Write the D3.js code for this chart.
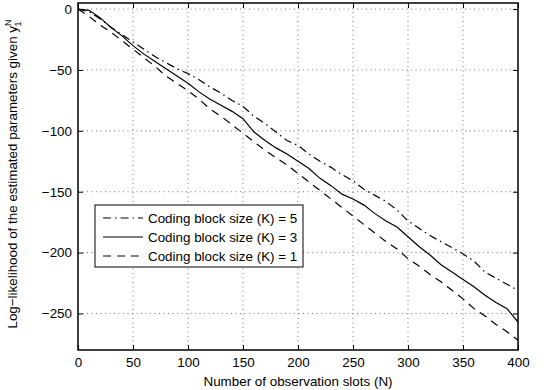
<!DOCTYPE html>
<html>
<head>
<meta charset="utf-8">
<script src="https://cdn.jsdelivr.net/npm/d3@7"></script>
<style>
  html, body { margin: 0; padding: 0; background: #fff; }
  svg { display: block; font-family: "Liberation Sans", Arial, Helvetica, sans-serif; }
</style>
</head>
<body>
<svg id="chart" width="552" height="390"></svg>
<script>
// Number of observation slots (N) at which each curve is sampled
const slots = [0, 10, 20, 30, 40, 50, 60, 70, 80, 90, 100, 110, 120, 130, 140, 150, 160, 170, 180, 190, 200,
               210, 220, 230, 240, 250, 260, 270, 280, 290, 300, 310, 320, 330, 340, 350, 360, 370, 380, 390, 400];

// Log-likelihood of the estimated parameters for each coding block size
const llK5 = [0, -2, -8, -15, -21, -27, -33, -39, -44, -49, -53, -58, -64, -69, -75, -80, -88, -94, -101, -108, -112,
              -119, -125, -130, -136, -141, -148, -153, -158, -165, -174, -180, -186, -191, -196, -201, -207, -216, -221, -226, -231];
const llK3 = [0, -1, -7, -15, -22, -30, -37, -43, -49, -55, -61, -68, -74, -79, -84, -90, -101, -108, -114, -119, -125,
              -131, -139, -145, -152, -156, -161, -168, -174, -179, -187, -195, -202, -210, -216, -222, -228, -235, -241, -246, -257];
const llK1 = [0, -6, -13, -19, -26, -33, -40, -47, -55, -61, -67, -74, -82, -88, -95, -102, -109, -116, -122, -128, -135,
              -142, -149, -156, -163, -170, -177, -184, -191, -197, -205, -211, -218, -224, -231, -238, -246, -252, -259, -265, -272];

const xTicks = [0, 50, 100, 150, 200, 250, 300, 350, 400];
const yTicks = [0, -50, -100, -150, -200, -250];

const seriesNames = ["Coding block size (K) = 5", "Coding block size (K) = 3", "Coding block size (K) = 1"];
const seriesValues = [llK5, llK3, llK1];
const seriesDash = ["8,4,1.5,4", null, "8,6"];

const fontSize = "13.4px";
const svg = d3.select("#chart");
const plotL = 78, plotR = 518, plotT = 3, plotB = 350;

const x = d3.scaleLinear().domain([0, 400]).range([plotL, plotR]);
const y = d3.scaleLinear().domain([-280, 5]).range([plotB, plotT]);

// dotted grid
const grid = svg.append("g").attr("stroke", "#555").attr("stroke-width", 0.8).attr("stroke-dasharray", "1,3.5");
grid.selectAll(".gx").data(xTicks.slice(1, -1)).join("line")
  .attr("x1", d => x(d)).attr("x2", d => x(d)).attr("y1", plotT).attr("y2", plotB);
grid.selectAll(".gy").data(yTicks).join("line")
  .attr("x1", plotL).attr("x2", plotR).attr("y1", d => y(d)).attr("y2", d => y(d));

// axes with inward ticks on all four sides
const fmt = d => d < 0 ? "\u2212" + Math.abs(d) : String(d);
const tickLen = 5;
const axB = svg.append("g").attr("transform", `translate(0,${plotB})`)
  .call(d3.axisBottom(x).tickValues(xTicks).tickSizeInner(-tickLen).tickSizeOuter(0).tickPadding(7).tickFormat(fmt));
const axT = svg.append("g").attr("transform", `translate(0,${plotT})`)
  .call(d3.axisTop(x).tickValues(xTicks).tickSizeInner(-tickLen).tickSizeOuter(0).tickFormat(""));
const axL = svg.append("g").attr("transform", `translate(${plotL},0)`)
  .call(d3.axisLeft(y).tickValues(yTicks).tickSizeInner(-tickLen).tickSizeOuter(0).tickPadding(6).tickFormat(fmt));
const axR = svg.append("g").attr("transform", `translate(${plotR},0)`)
  .call(d3.axisRight(y).tickValues(yTicks).tickSizeInner(-tickLen).tickSizeOuter(0).tickFormat(""));
[axB, axT, axL, axR].forEach(a => {
  a.select(".domain").remove();
  a.selectAll("line").attr("stroke", "#000").attr("stroke-width", 1);
  a.selectAll("text").attr("fill", "#000").style("font-size", fontSize);
});

// curves
const line = d3.line().x((d, i) => x(slots[i])).y(d => y(d));
const curves = svg.append("g").attr("fill", "none").attr("stroke", "#000").attr("stroke-width", 1.2);
seriesValues.forEach((vals, i) => {
  curves.append("path").datum(vals).attr("d", line)
    .attr("stroke-dasharray", seriesDash[i]);
});

// frame
svg.append("rect").attr("x", plotL).attr("y", plotT).attr("width", plotR - plotL).attr("height", plotB - plotT)
  .attr("fill", "none").attr("stroke", "#000").attr("stroke-width", 1.5);

// legend
const lg = svg.append("g");
lg.append("rect").attr("x", 95).attr("y", 205).attr("width", 208).attr("height", 62)
  .attr("fill", "#fff").attr("stroke", "#000").attr("stroke-width", 1);
seriesNames.forEach((name, i) => {
  const yy = 218 + i * 19;
  lg.append("line").attr("x1", 103).attr("x2", 143).attr("y1", yy).attr("y2", yy)
    .attr("stroke", "#000").attr("stroke-width", 1.2).attr("stroke-dasharray", seriesDash[i]);
  lg.append("text").attr("x", 148).attr("y", yy).attr("dy", "0.35em")
    .style("font-size", fontSize).text(name);
});

// axis titles
svg.append("text").attr("x", (plotL + plotR) / 2).attr("y", 386).attr("text-anchor", "middle")
  .style("font-size", fontSize).text("Number of observation slots (N)");

const yl = svg.append("text").attr("transform", `translate(17,174) rotate(-90)`)
  .attr("text-anchor", "middle").style("font-size", fontSize);
yl.append("tspan").text("Log\u2212likelihood of the estimated parameters given y");
yl.append("tspan").attr("dy", "-6").style("font-size", "9px").text("N");
yl.append("tspan").attr("dx", "-7").attr("dy", "10").style("font-size", "9px").text("1");
</script>
</body>
</html>
